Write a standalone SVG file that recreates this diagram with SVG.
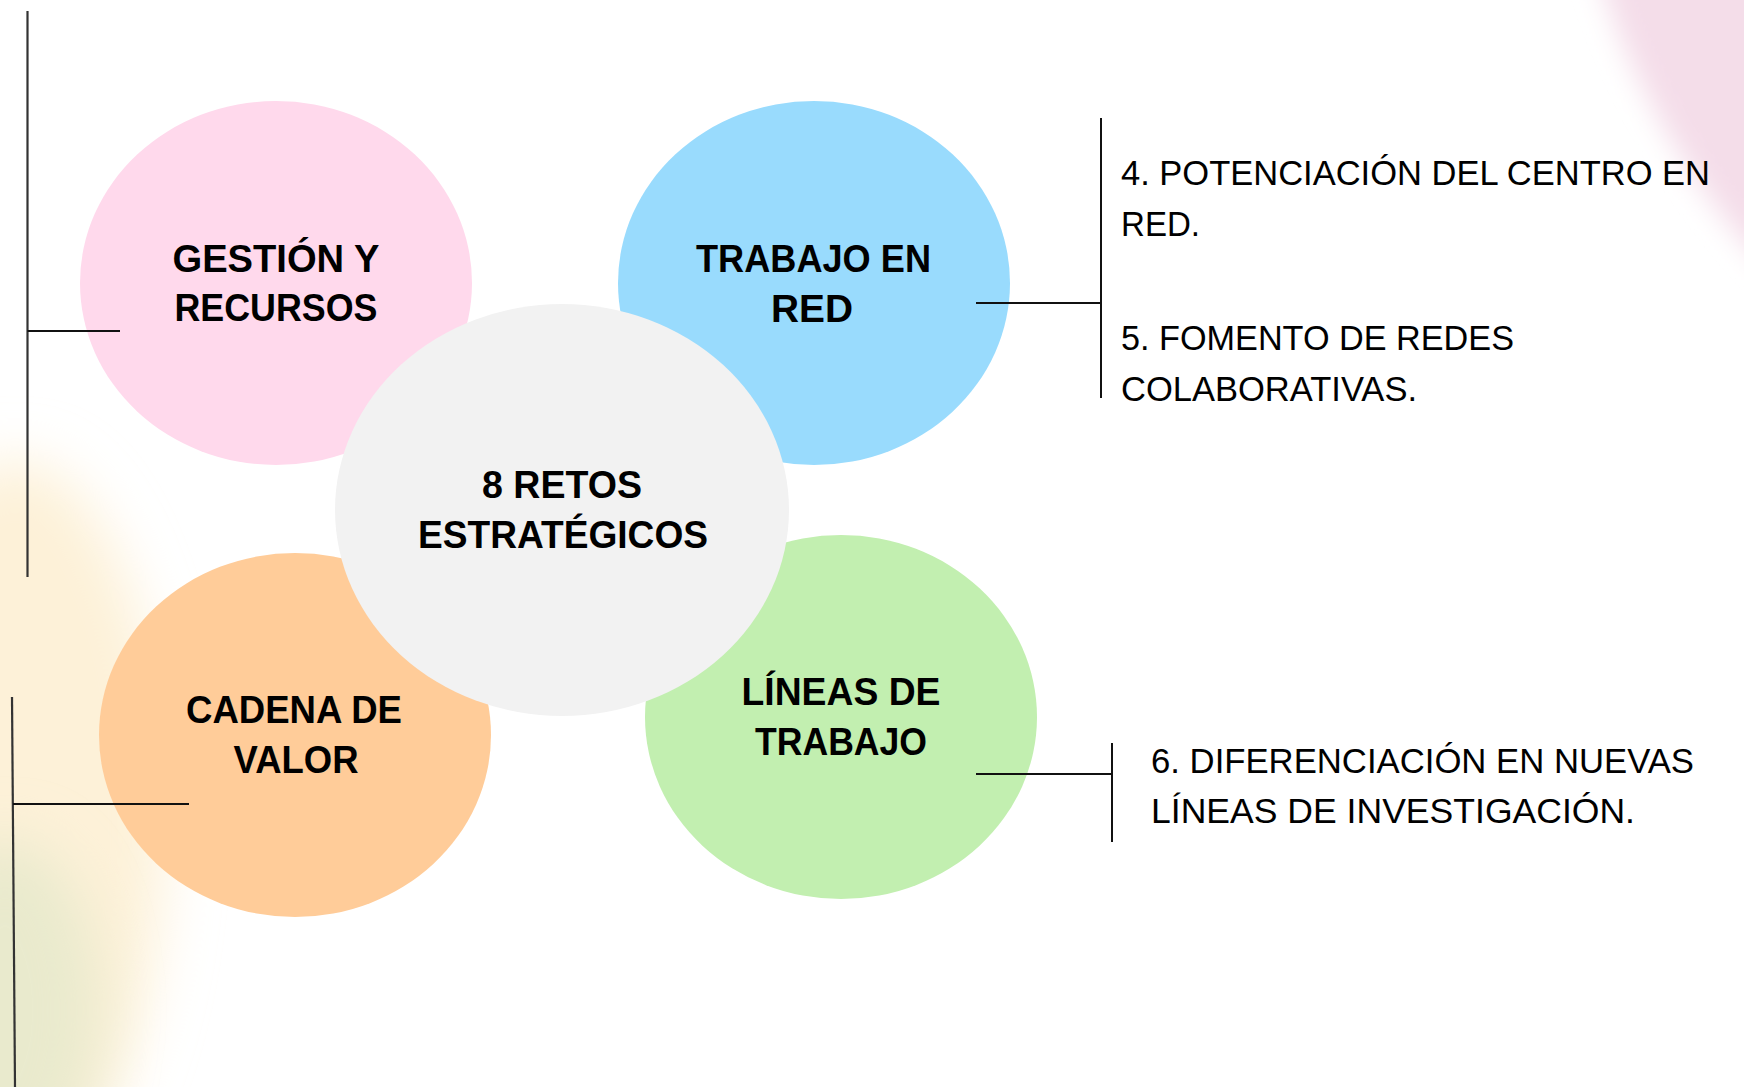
<svg xmlns="http://www.w3.org/2000/svg" width="1744" height="1087" viewBox="0 0 1744 1087">
  <defs>
    <filter id="soft" x="-60%" y="-60%" width="220%" height="220%">
      <feGaussianBlur stdDeviation="28"/>
    </filter>
    <filter id="softer" x="-60%" y="-60%" width="220%" height="220%">
      <feGaussianBlur stdDeviation="14"/>
    </filter>
    <style>
      .title { font-family: "Liberation Sans", Arial, sans-serif; font-weight: bold; font-size: 38px; fill: #000; text-anchor: middle; }
      .item { font-family: "Liberation Sans", Arial, sans-serif; font-size: 35.5px; fill: #000; }
      .conn { stroke: #111; stroke-width: 2; fill: none; }
      .trunk { stroke: #333; stroke-width: 2.2; fill: none; }
    </style>
  </defs>

  <rect x="0" y="0" width="1744" height="1087" fill="#ffffff"/>

  <!-- background glows -->
  <g id="background">
    <ellipse cx="1775" cy="70" rx="310" ry="125" transform="rotate(60 1775 70)" fill="#F4DDE9" filter="url(#softer)"/>
    <ellipse cx="15" cy="820" rx="150" ry="360" fill="#FDF1D8" filter="url(#soft)"/>
    <ellipse cx="5" cy="1010" rx="95" ry="170" fill="#E9EACD" filter="url(#soft)"/>
  </g>

  <g id="node-gestion">
    <ellipse cx="276" cy="283" rx="196" ry="182" fill="#FFD9EC"/>
    <text class="title" x="276" y="272" textLength="207" lengthAdjust="spacingAndGlyphs">GESTIÓN Y</text>
    <text class="title" x="276" y="321" textLength="203" lengthAdjust="spacingAndGlyphs">RECURSOS</text>
  </g>

  <g id="node-trabajo-red">
    <ellipse cx="814" cy="283" rx="196" ry="182" fill="#99DBFD"/>
    <text class="title" x="813.5" y="272" textLength="235" lengthAdjust="spacingAndGlyphs">TRABAJO EN</text>
    <text class="title" x="812" y="322" textLength="82" lengthAdjust="spacingAndGlyphs">RED</text>
  </g>

  <g id="node-cadena">
    <ellipse cx="295" cy="735" rx="196" ry="182" fill="#FFCC99"/>
    <text class="title" x="294" y="723" textLength="216" lengthAdjust="spacingAndGlyphs">CADENA DE</text>
    <text class="title" x="296" y="773" textLength="125" lengthAdjust="spacingAndGlyphs">VALOR</text>
  </g>

  <g id="node-lineas">
    <ellipse cx="841" cy="717" rx="196" ry="182" fill="#C2EFB0"/>
    <text class="title" x="841" y="705" textLength="199" lengthAdjust="spacingAndGlyphs">LÍNEAS DE</text>
    <text class="title" x="841" y="755" textLength="172" lengthAdjust="spacingAndGlyphs">TRABAJO</text>
  </g>

  <g id="node-centro">
    <ellipse cx="562" cy="510" rx="227" ry="206" fill="#F2F2F2"/>
    <text class="title" x="562" y="498" textLength="160" lengthAdjust="spacingAndGlyphs">8 RETOS</text>
    <text class="title" x="563" y="548" textLength="290" lengthAdjust="spacingAndGlyphs">ESTRATÉGICOS</text>
  </g>

  <g id="connectors">
    <line class="trunk" x1="27.5" y1="11" x2="27.5" y2="577"/>
    <line class="conn" x1="27.5" y1="331" x2="120" y2="331"/>
    <line class="trunk" x1="12" y1="697" x2="15" y2="1087"/>
    <line class="conn" x1="13" y1="804" x2="189" y2="804"/>
    <line class="conn" x1="976" y1="303" x2="1101" y2="303"/>
    <line class="conn" x1="1101" y1="118" x2="1101" y2="398"/>
    <line class="conn" x1="976" y1="774" x2="1112" y2="774"/>
    <line class="conn" x1="1112" y1="743" x2="1112" y2="842"/>
  </g>

  <g id="text-red">
    <text class="item" x="1121" y="185" textLength="589" lengthAdjust="spacingAndGlyphs">4. POTENCIACIÓN DEL CENTRO EN</text>
    <text class="item" x="1121" y="236" textLength="79" lengthAdjust="spacingAndGlyphs">RED.</text>
    <text class="item" x="1121" y="350" textLength="393" lengthAdjust="spacingAndGlyphs">5. FOMENTO DE REDES</text>
    <text class="item" x="1121" y="401" textLength="296" lengthAdjust="spacingAndGlyphs">COLABORATIVAS.</text>
  </g>

  <g id="text-lineas">
    <text class="item" x="1151" y="773" textLength="543" lengthAdjust="spacingAndGlyphs">6. DIFERENCIACIÓN EN NUEVAS</text>
    <text class="item" x="1151" y="823" textLength="484" lengthAdjust="spacingAndGlyphs">LÍNEAS DE INVESTIGACIÓN.</text>
  </g>
</svg>
